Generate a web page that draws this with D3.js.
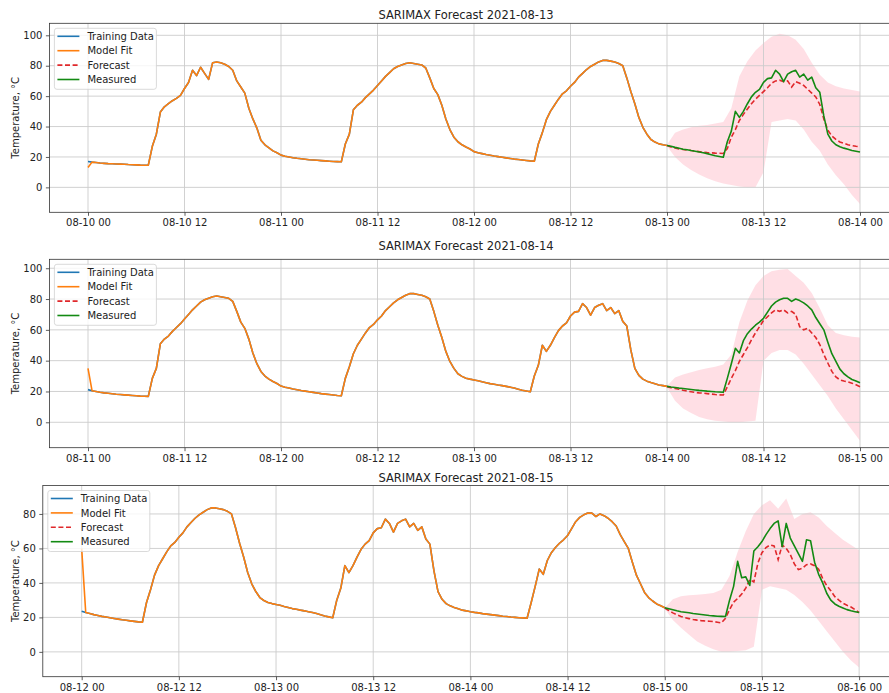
<!DOCTYPE html>
<html><head><meta charset="utf-8">
<script src="https://cdn.jsdelivr.net/npm/d3@7"></script>
<style>
body{margin:0;background:#fff}
svg{display:block;font-family:"DejaVu Sans",sans-serif}
</style>
</head><body>
<svg id="chart" width="889" height="693"></svg>
<script>
// ---------- DATA (half-hourly measured temperature, °C) ----------
const temp_0810 = [17.0,16.6,16.3,16.0,15.8,15.6,15.5,15.4,15.3,15.2,15.0,14.9,14.8,14.6,14.5,14.6,
  27.0,35.0,49.5,53.0,55.0,57.0,58.5,60.5, 65.0,69.0,77.0,73.5,79.0,75.0,71.0,82.0,
  82.5,82.0,81.0,79.5,77.0,70.0,66.0,62.0, 52.0,45.0,39.0,31.0,28.0,26.0,24.0,22.8];
const temp_0811 = [21.2,20.5,20.0,19.5,19.1,18.8,18.5,18.2,18.0,17.8,17.6,17.4,17.2,17.0,16.9,16.8,
  28.5,35.0,51.0,54.0,56.0,59.0,61.5,64.0, 67.0,70.0,73.0,75.5,78.0,79.5,80.5,81.5,
  82.0,81.5,81.0,80.5,78.5,72.0,65.0,61.0, 54.0,45.0,38.0,33.0,30.0,28.0,26.5,25.2];
const temp_0812 = [23.5,22.8,22.2,21.6,21.1,20.6,20.2,19.8,19.4,19.0,18.6,18.3,18.0,17.7,17.4,17.2,
  28.5,36.0,44.5,50.0,54.0,58.0,61.5,63.5, 66.5,69.0,72.5,75.0,77.5,79.5,81.0,82.5,
  83.5,83.5,83.0,82.5,81.5,80.0,72.0,63.0, 55.0,46.0,39.5,35.0,31.5,29.8,28.6,28.0];
const temp_0813 = [27.5,27.0,26.3,25.7,25.1,24.7,24.2,23.8,23.3,22.8,22.2,21.5,20.8,20.3,19.8,30.0,
  37.0,50.0,46.0,50.0,55.0,59.5,62.5,64.5, 69.0,71.5,72.0,77.0,74.5,69.5,74.5,76.0,
  77.0,72.5,74.5,70.5,72.5,65.5,62.5,47.0, 35.0,30.5,28.0,26.7,25.8,25.0,24.2,23.8];
const temp_0814 = [23.3,22.9,22.6,22.2,21.9,21.6,21.3,21.0,20.7,20.5,20.2,20.0,19.8,19.7,19.5,28.5,
  38.0,48.0,45.0,53.0,57.5,60.5,63.0,65.0, 67.5,71.5,75.5,78.0,79.5,80.5,80.5,78.5,
  80.0,79.0,77.5,75.5,73.0,68.0,64.0,60.0, 52.0,44.5,39.5,34.5,31.5,29.5,27.8,26.8];
const temp_0815 = [25.6,25.0,24.4,23.8,23.3,23.0,22.7,22.3,22.0,21.7,21.4,21.1,20.9,20.7,20.6,20.5,
  30.0,38.0,52.5,43.0,43.5,38.5,58.5,61.0, 64.0,68.0,71.5,74.5,76.0,61.0,74.5,66.0,
  61.5,57.0,52.5,65.0,64.5,52.0,45.0,40.0, 34.0,30.0,27.8,26.5,25.5,24.5,23.8,23.3];
const temp_0816_00 = 22.8;

// first in-sample value of the model fit in each panel (start-up artefact)
const fitFirstValue = [13, 35, 60];

// forecast dates (panel titles)
const forecastDates = ["2021-08-13", "2021-08-14", "2021-08-15"];

// half-hourly forecasts (00:00 .. 24:00)
const forecast_0813 = [27.5,26.6,25.9,25.3,24.9,24.6,24.2,23.9,23.5,23.2,22.9,22.7,22.5,22.4,22.3,25.5,
  33.0,38.0,44.0,48.0,51.5,55.0,58.0,60.5, 63.0,65.5,68.5,70.0,70.5,69.5,70.0,66.0,
  69.5,68.5,67.0,64.5,62.0,59.5,54.5,45.0, 37.6,33.8,31.5,29.9,29.0,28.0,27.5,27.0, 26.7];
const forecast_0814 = [23.1,22.5,22.0,21.5,20.8,20.2,19.8,19.4,19.1,18.9,18.6,18.3,18.0,17.8,17.7,23.0,
  28.5,33.5,39.5,44.0,48.5,53.5,58.0,62.0, 66.0,68.5,71.0,73.0,72.0,73.0,71.0,72.0,
  70.0,62.0,60.0,61.0,58.0,55.0,50.5,44.0, 38.5,33.0,29.5,27.5,26.8,26.2,25.4,24.3, 23.1];
const forecast_0815 = [25.4,24.0,22.6,21.5,20.5,19.8,19.3,18.8,18.4,18.1,17.9,17.8,17.6,17.2,16.8,19.5,
  24.5,28.8,31.0,33.5,37.0,42.0,40.5,51.5, 57.5,60.5,62.0,61.5,53.5,62.0,60.0,56.5,
  51.0,47.7,48.5,50.6,51.0,50.0,48.0,42.5, 38.5,35.5,32.0,30.0,28.2,27.0,26.0,24.5, 22.8];

// hourly confidence bounds (00:00 .. 24:00)
const lower_0813 = [27,20,15,11.5,8.5,6,4,2.5,1.5,0.5,0,0,10,43,44,45,44,38,30,24,15,8,2,-5,-11];
const upper_0813 = [28,36,38,39.5,40.5,41,42,43,52,73,83,90,95,99,101,100,97,91,82,74,69,66.5,65,64,63];
const lower_0814 = [22.5,14,9,6,3.5,2,1,0.5,0,0,0.5,1,40,45,47,47,44,38,31,24,17,9,2,-5,-12];
const upper_0814 = [23.5,29,31,32.5,34,35,36,37.5,44,65,79,89,95,98,99,99.5,95,90.5,84,74,63,58,56.5,55.5,55];
const lower_0815 = [25,18.5,14,10,6,3.5,1.5,0,0,0.5,1,3,36,38,37,36,33,29,24,18,12,6,0,-5,-9];
const upper_0815 = [25.5,30.5,32.2,32.8,33.2,33.6,34.1,36,44,58,70,80,85,88,83,89,77,80,81,78,73,69,65,62,59];

const yTickValues = [[0,20,40,60,80,100],[0,20,40,60,80,100],[0,20,40,60,80]];
const legendLabels = ["Training Data", "Model Fit", "Forecast", "Measured"];

// ---------- LAYOUT / STYLE ----------
const layout = [
  {left:49.4, right:898.6, top:23.3,  bottom:212.3, yDom:[-16.4,107.9], titleY:19},
  {left:49.4, right:898.6, top:259.3, bottom:447.7, yDom:[-16.5,105.8], titleY:250},
  {left:42.8, right:898.0, top:485.5, bottom:676.7, yDom:[-14.4,96.5],  titleY:481.5}
];
const C = {train:"#1f77b4", fit:"#ff7f0e", fc:"#e0282b", meas:"#138a13", band:"pink", grid:"#cccccc", spine:"#333", text:"#222"};
const LW = 1.6;

// ---------- BUILD ----------
const HOUR = 3600e3, DAY = 24*HOUR, STEP = HOUR/2;
const t0 = Date.UTC(2021,7,10);
const temps = [].concat(temp_0810,temp_0811,temp_0812,temp_0813,temp_0814,temp_0815,[temp_0816_00]);
const forecasts = [forecast_0813, forecast_0814, forecast_0815];
const lowers = [lower_0813, lower_0814, lower_0815];
const uppers = [upper_0813, upper_0814, upper_0815];

const svg = d3.select("#chart");
const fmt = d3.utcFormat("%m-%d %H");

layout.forEach((p, i) => {
  const dayStart = t0 + i*DAY;
  const fcStart = dayStart + 3*DAY;
  const x = d3.scaleUtc()
    .domain([new Date(dayStart - 4.8*HOUR), new Date(dayStart + 4*DAY + 4.8*HOUR)])
    .range([p.left, p.right]);
  const y = d3.scaleLinear().domain(p.yDom).range([p.bottom, p.top]);
  const g = svg.append("g");

  const clipId = "clip" + i;
  g.append("clipPath").attr("id", clipId).append("rect")
    .attr("x", p.left).attr("y", p.top).attr("width", p.right - p.left).attr("height", p.bottom - p.top);
  const plot = g.append("g").attr("clip-path", `url(#${clipId})`);

  const i0 = i*48;
  const train = d3.range(0, 3*48 + 1).map(k => ({t: new Date(dayStart + k*STEP), v: temps[i0 + k]}));
  const fit = train.map((d, k) => ({t: d.t, v: k === 0 ? fitFirstValue[i] : d.v}));
  const meas = d3.range(0, 48 + 1).map(k => ({t: new Date(fcStart + k*STEP), v: temps[i0 + 3*48 + k]}));
  const fc = forecasts[i].map((v, k) => ({t: new Date(fcStart + k*STEP), v}));
  const band = lowers[i].map((lo, k) => ({t: new Date(fcStart + k*HOUR), lo, hi: uppers[i][k]}));

  plot.append("path").datum(band)
    .attr("d", d3.area().x(d => x(d.t)).y0(d => y(d.lo)).y1(d => y(d.hi)))
    .attr("fill", C.band).attr("opacity", 0.5);

  const xTicks = d3.range(9).map(k => new Date(dayStart + k*12*HOUR));
  plot.selectAll(".gx").data(xTicks).join("line")
    .attr("x1", d => x(d)).attr("x2", d => x(d)).attr("y1", p.top).attr("y2", p.bottom)
    .attr("stroke", C.grid).attr("stroke-width", 0.9);
  plot.selectAll(".gy").data(yTickValues[i]).join("line")
    .attr("x1", p.left).attr("x2", p.right).attr("y1", d => y(d)).attr("y2", d => y(d))
    .attr("stroke", C.grid).attr("stroke-width", 0.9);

  const line = d3.line().x(d => x(d.t)).y(d => y(d.v));
  plot.append("path").datum(train).attr("d", line).attr("fill","none").attr("stroke", C.train).attr("stroke-width", LW).attr("stroke-linejoin","round");
  plot.append("path").datum(fit).attr("d", line).attr("fill","none").attr("stroke", C.fit).attr("stroke-width", LW).attr("stroke-linejoin","round");
  plot.append("path").datum(fc).attr("d", line).attr("fill","none").attr("stroke", C.fc).attr("stroke-width", LW).attr("stroke-dasharray","5,2.6");
  plot.append("path").datum(meas).attr("d", line).attr("fill","none").attr("stroke", C.meas).attr("stroke-width", LW).attr("stroke-linejoin","round");

  const xAxis = d3.axisBottom(x).tickValues(xTicks).tickFormat(fmt).tickSize(3.5).tickPadding(3.5);
  const yAxis = d3.axisLeft(y).tickValues(yTickValues[i]).tickFormat(d3.format("d")).tickSize(3.5).tickPadding(3.5);
  const gx = g.append("g").attr("transform", `translate(0,${p.bottom})`).call(xAxis);
  const gy = g.append("g").attr("transform", `translate(${p.left},0)`).call(yAxis);
  [gx, gy].forEach(a => {
    a.select(".domain").remove();
    a.selectAll(".tick line").attr("stroke", C.spine).attr("stroke-width", 0.8);
    a.selectAll(".tick text").attr("fill", C.text).style("font-size", "10px").style("font-family", '"DejaVu Sans", sans-serif');
  });

  g.append("rect").attr("x", p.left).attr("y", p.top).attr("width", p.right - p.left).attr("height", p.bottom - p.top)
    .attr("fill","none").attr("stroke", C.spine).attr("stroke-width", 0.8);

  g.append("text").attr("x", 466).attr("y", p.titleY).attr("text-anchor","middle")
    .attr("fill", C.text).style("font-size","11.5px").text("SARIMAX Forecast " + forecastDates[i]);

  g.append("text").attr("transform", `translate(18.6,${(p.top + p.bottom)/2}) rotate(-90)`)
    .attr("text-anchor","middle").attr("fill", C.text).style("font-size","10px").text("Temperature, °C");

  const lg = g.append("g").attr("transform", `translate(${p.left + 5},${p.top + 5})`);
  lg.append("rect").attr("width", 102).attr("height", 61).attr("rx", 2.5)
    .attr("fill", "#fff").attr("fill-opacity", 0.8).attr("stroke", "#d0d0d0").attr("stroke-width", 0.8);
  const legendStyles = [
    {c: C.train, dash: null}, {c: C.fit, dash: null}, {c: C.fc, dash: "5,2.6"}, {c: C.meas, dash: null}
  ];
  legendLabels.forEach((lab, k) => {
    const cy = 8 + k*14.4;
    lg.append("line").attr("x1", 3).attr("x2", 25).attr("y1", cy).attr("y2", cy)
      .attr("stroke", legendStyles[k].c).attr("stroke-width", LW)
      .attr("stroke-dasharray", legendStyles[k].dash);
    lg.append("text").attr("x", 33).attr("y", cy + 3.6).attr("fill", C.text)
      .style("font-size","10px").text(lab);
  });
});
</script>
</body></html>
